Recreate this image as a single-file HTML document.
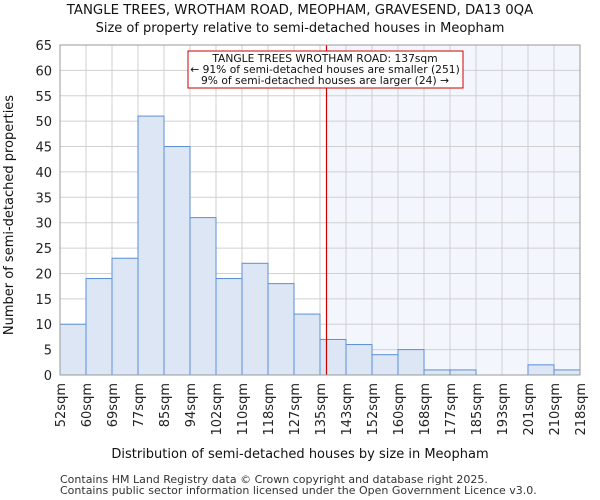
<!DOCTYPE html>
<html><head><meta charset="utf-8"><style>body{margin:0;background:#fff}svg{display:block;font-family:"DejaVu Sans","Liberation Sans",sans-serif}</style></head>
<body>
<svg id="c" width="600" height="500"></svg>
<script>
const labels=["52sqm","60sqm","69sqm","77sqm","85sqm","94sqm","102sqm","110sqm","118sqm","127sqm","135sqm","143sqm","152sqm","160sqm","168sqm","177sqm","185sqm","193sqm","201sqm","210sqm","218sqm"];
const counts=[10,19,23,51,45,31,19,22,18,12,7,6,4,5,1,1,0,0,2,1];
const yTicks=[0,5,10,15,20,25,30,35,40,45,50,55,60,65];
const marker=10.25;
const X0=60,X1=580,Y0=375,Y1=45,YMAX=65;
const bw=(X1-X0)/counts.length;
const x=i=>X0+i*bw, y=v=>Y0-(v/YMAX)*(Y0-Y1);
const s=document.getElementById('c');const NS="http://www.w3.org/2000/svg";
function el(t,a,txt){const e=document.createElementNS(NS,t);for(const k in a)e.setAttribute(k,a[k]);if(txt!=null)e.textContent=txt;s.appendChild(e);return e;}
let e;
e=el('rect',{x:x(marker),y:Y1,width:X1-x(marker),height:Y0-Y1,fill:'#f3f6fd'});

yTicks.forEach(v=>{e=el('line',{x1:X0,x2:X1,y1:y(v),y2:y(v),stroke:'#d0d0d0'});
e=el('text',{x:X0-8,y:y(v)+5,'text-anchor':'end','font-size':13,fill:'#222'},v);});
labels.forEach((l,i)=>{e=el('line',{x1:x(i),x2:x(i),y1:Y1,y2:Y0,stroke:'#d0d0d0'});
e=el('text',{transform:`translate(${x(i)+5},${Y0+8}) rotate(-90)`,'text-anchor':'end','font-size':13,fill:'#222'},l);});
counts.forEach((v,i)=>{e=el('rect',{x:x(i),y:y(v),width:bw,height:Y0-y(v),fill:'#dce6f5',stroke:'#5b8fd6','stroke-width':1});});
e=el('line',{x1:x(marker),x2:x(marker),y1:Y1,y2:Y0,stroke:'#cc0000','stroke-width':1.2});
e=el('rect',{x:X0,y:Y1,width:X1-X0,height:Y0-Y1,fill:'none',stroke:'#999'});
e=el('rect',{x:188,y:51,width:275,height:37,fill:'#fff',stroke:'#cc0000'});
[["TANGLE TREES WROTHAM ROAD: 137sqm",62],["← 91% of semi-detached houses are smaller (251)",73],["9% of semi-detached houses are larger (24) →",84]].forEach(a=>{e=el('text',{x:325,y:a[1],'text-anchor':'middle','font-size':10.7,fill:'#111'},a[0]);});
e=el('text',{x:300,y:14,'text-anchor':'middle','font-size':13.3,fill:'#111'},"TANGLE TREES, WROTHAM ROAD, MEOPHAM, GRAVESEND, DA13 0QA");
e=el('text',{x:300,y:32,'text-anchor':'middle','font-size':13,fill:'#111'},"Size of property relative to semi-detached houses in Meopham");
e=el('text',{x:300,y:458,'text-anchor':'middle','font-size':13,fill:'#111'},"Distribution of semi-detached houses by size in Meopham");
e=el('text',{transform:'translate(13,215) rotate(-90)','text-anchor':'middle','font-size':13,fill:'#111'},"Number of semi-detached properties");
e=el('text',{x:60,y:483,'font-size':11,fill:'#333'},"Contains HM Land Registry data © Crown copyright and database right 2025.");
e=el('text',{x:60,y:494,'font-size':11,fill:'#333'},"Contains public sector information licensed under the Open Government Licence v3.0.");
</script>
</body></html>
